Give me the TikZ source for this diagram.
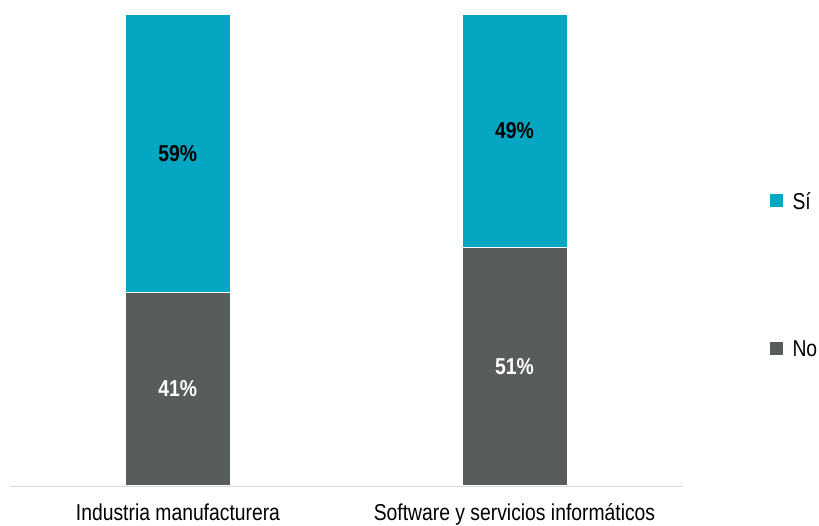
\documentclass[tikz,border=0pt]{standalone}
\usepackage{fontspec}
\setmainfont[FakeStretch=0.84]{Liberation Sans}
\usetikzlibrary{positioning}
\definecolor{siblue}{HTML}{05A6C2}
\definecolor{nogray}{HTML}{585C5C}
\definecolor{axisgray}{HTML}{D9D9D9}

\begin{document}
\begin{tikzpicture}[
  x=1pt, y=-1pt,
  seg/.style={rectangle, inner sep=0pt, outer sep=0pt, minimum width=105pt,
    draw=white, line width=0.4pt},
  pct/.style={font=\fontsize{23}{25}\selectfont\bfseries},
  cat/.style={font=\fontsize{23}{25}\selectfont, text=black, inner sep=0pt, anchor=base},
  key/.style={rectangle, minimum size=13pt, inner sep=0pt},
  keytext/.style={font=\fontsize{23}{25}\selectfont, anchor=base west, text=black},
]
  \useasboundingbox (0,0) rectangle (819,526);

  % Bars
  \node[seg, fill=siblue, minimum height=278.3pt, anchor=north west] (si1) at (125.3,14) {};
  \node[seg, fill=nogray, minimum height=192.7pt, below=0pt of si1] (no1) {};
  \node[seg, fill=siblue, minimum height=233.3pt, anchor=north west] (si2) at (462,14) {};
  \node[seg, fill=nogray, minimum height=237.7pt, below=0pt of si2] (no2) {};

  % Axis
  \coordinate (axl) at (10,486.7);
  \coordinate (axr) at (682.7,486.7);
  \draw[axisgray, line width=1.3pt] (axl) -- (axr);

  % Values
  \node[pct, text=black] (v59) at (si1) {59\%};
  \node[pct, text=white] (v41) at (no1) {41\%};
  \node[pct, text=black] (v49) at (si2) {49\%};
  \node[pct, text=white] (v51) at (no2) {51\%};

  % Categories
  \node[cat] (c1) at (178,520) {Industria manufacturera};
  \node[cat] (c2) at (514.5,520) {Software y servicios inform\'aticos};

  % Legend
  \node[key, fill=siblue] (ksi) at (776,200.5) {};
  \node[keytext] (tsi) at (789,210) {Sí};
  \node[key, fill=nogray] (kno) at (776,348.3) {};
  \node[keytext] (tno) at (789,356.7) {No};
\end{tikzpicture}
\end{document}
